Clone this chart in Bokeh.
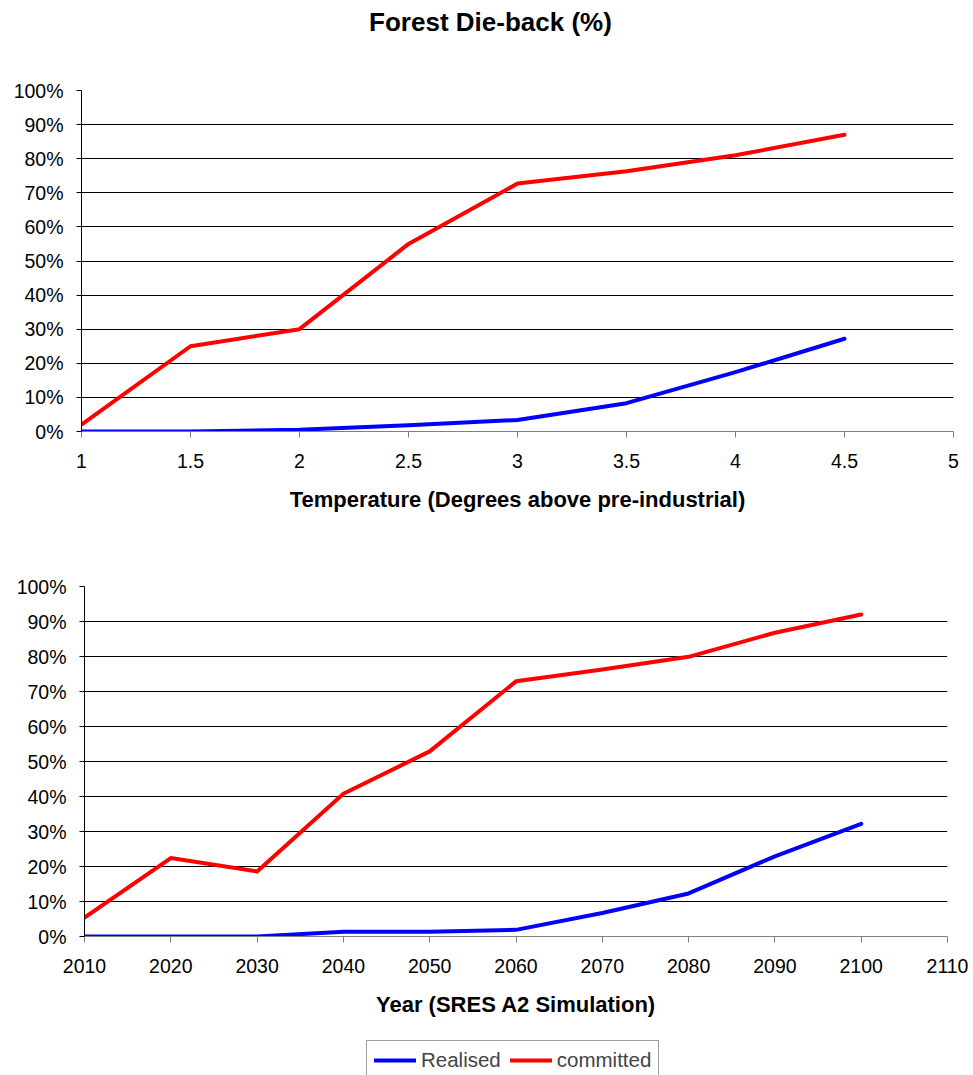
from bokeh.plotting import figure
from bokeh.models import Range1d, FixedTicker, CustomJSTickFormatter, Legend, LegendItem, Label
from bokeh.layouts import column, row
from bokeh.embed import file_html
from bokeh.resources import INLINE

# ---- data ----
temperature = [1, 1.5, 2, 2.5, 3, 3.5, 4, 4.5]
realised_temp = [0, 0, 0.5, 1.8, 3.4, 8.3, 17.4, 27.2]
committed_temp = [2, 25, 30, 55, 72.7, 76.3, 81, 87]

years = [2010, 2020, 2030, 2040, 2050, 2060, 2070, 2080, 2090, 2100]
realised_year = [0, 0, 0, 1.35, 1.35, 1.9, 6.7, 12.3, 22.9, 32.2]
committed_year = [5.4, 22.4, 18.6, 40.8, 52.9, 72.9, 76.3, 79.9, 86.8, 92.0]

temp_ticks = [1, 1.5, 2, 2.5, 3, 3.5, 4, 4.5, 5]
year_ticks = [2010, 2020, 2030, 2040, 2050, 2060, 2070, 2080, 2090, 2100, 2110]
pct_ticks = [0, 10, 20, 30, 40, 50, 60, 70, 80, 90, 100]

title_text = "Forest Die-back (%)"
xlabel_top = "Temperature (Degrees above pre-industrial)"
xlabel_bottom = "Year (SRES A2 Simulation)"
series_names = ["Realised", "committed"]

FONT = "Liberation Sans"
RED = "#ff0000"
BLUE = "#0000ff"


def style(p, xticks, xlabel):
    p.outline_line_color = None
    p.background_fill_color = "white"
    p.border_fill_color = "white"
    p.xgrid.visible = False
    p.ygrid.ticker = FixedTicker(ticks=pct_ticks)
    p.ygrid.grid_line_color = "black"
    p.ygrid.grid_line_width = 1

    ya = p.yaxis[0]
    ya.ticker = FixedTicker(ticks=pct_ticks)
    ya.formatter = CustomJSTickFormatter(code="return tick + '%';")
    ya.axis_line_color = "black"
    ya.major_tick_line_color = "black"
    ya.major_tick_out = 5
    ya.major_tick_in = 0
    ya.minor_tick_line_color = None
    ya.major_label_standoff = 13
    ya.major_label_text_font = FONT
    ya.major_label_text_font_size = "19.5px"
    ya.major_label_text_color = "black"

    xa = p.xaxis[0]
    xa.ticker = FixedTicker(ticks=xticks)
    xa.formatter = CustomJSTickFormatter(code="return tick + '';")
    xa.axis_line_color = "#808080"
    xa.major_tick_line_color = "#808080"
    xa.major_tick_out = 6
    xa.major_tick_in = 0
    xa.minor_tick_line_color = None
    xa.major_label_standoff = 16
    xa.major_label_text_font = FONT
    xa.major_label_text_font_size = "19.5px"
    xa.major_label_text_color = "black"
    xa.axis_label = xlabel
    xa.axis_label_text_font = FONT
    xa.axis_label_text_font_size = "22px"
    xa.axis_label_text_font_style = "bold"
    xa.axis_label_text_color = "black"
    xa.axis_label_standoff = 16


def strip(height, left, right, yr):
    s = figure(width=973, height=height, x_range=Range1d(0, 1), y_range=Range1d(0, yr),
               x_axis_type=None, y_axis_type=None, title_location=None,
               output_backend="svg", toolbar_location=None,
               min_border_left=left, min_border_right=right, min_border_top=0, min_border_bottom=0)
    s.outline_line_color = None
    s.border_fill_color = "white"
    s.background_fill_color = "white"
    return s


# title strip
p0 = strip(70, 81, 20, 70)
p0.add_layout(Label(x=0.469, y=49, text=title_text, text_align="center", text_baseline="middle",
                    text_font=FONT, text_font_size="26px", text_font_style="bold", text_color="black"))

p1 = figure(width=973, height=470, x_range=Range1d(1, 5), y_range=Range1d(0, 100),
            output_backend="svg", toolbar_location=None, title_location=None,
            min_border_left=81, min_border_right=20, min_border_top=20, min_border_bottom=109)
style(p1, temp_ticks, xlabel_top)
p1.line(temperature, committed_temp, line_width=4, color=RED, line_cap="round", line_join="round")
p1.line(temperature, realised_temp, line_width=4, color=BLUE, line_cap="round", line_join="round")

p2 = figure(width=973, height=490, x_range=Range1d(2010, 2110), y_range=Range1d(0, 100),
            output_backend="svg", toolbar_location=None, title_location=None,
            min_border_left=84, min_border_right=26, min_border_top=46, min_border_bottom=94)
style(p2, year_ticks, xlabel_bottom)
p2.line(years, committed_year, line_width=4, color=RED, line_cap="round", line_join="round")
p2.line(years, realised_year, line_width=4, color=BLUE, line_cap="round", line_join="round")

# legend strip (series drawn out of view only to provide legend glyphs)
p3 = strip(45, 84, 26, 1)
lr_blue = p3.line(years, realised_year, line_width=4, color=BLUE, line_cap="round")
lr_red = p3.line(years, committed_year, line_width=4, color=RED, line_cap="round")
legend = Legend(items=[LegendItem(label=series_names[0], renderers=[lr_blue]),
                       LegendItem(label=series_names[1], renderers=[lr_red])],
                location=(282, -5), orientation="horizontal",
                label_text_font=FONT, label_text_font_size="20.5px",
                glyph_width=42, glyph_height=20, label_standoff=5, spacing=9,
                padding=7, margin=0,
                border_line_color="#404040", border_line_width=1,
                background_fill_color="white", background_fill_alpha=1.0)
p3.add_layout(legend, "center")

layout = column(row(p0), row(p1), row(p2), row(p3), spacing=0)
open("out.html", "w").write(file_html(layout, INLINE))
